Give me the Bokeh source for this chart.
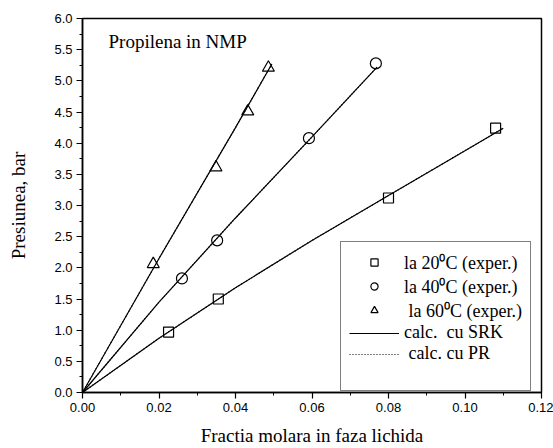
from bokeh.plotting import figure
from bokeh.models import (Range1d, SingleIntervalTicker, NumeralTickFormatter,
                          Legend, LegendItem, Label)
from bokeh.embed import file_html
from bokeh.resources import INLINE

# experimental points
x20 = [0.0225, 0.0355, 0.0800, 0.1080]
p20 = [0.97, 1.50, 3.12, 4.24]
x40 = [0.0260, 0.0352, 0.0592, 0.0767]
p40 = [1.83, 2.44, 4.08, 5.28]
x60 = [0.0185, 0.0349, 0.0432, 0.0486]
p60 = [2.06, 3.61, 4.51, 5.21]

# calculated curves (SRK and PR coincide)
calc20_x = [0.0, 0.02, 0.04, 0.06, 0.08, 0.10, 0.110]
calc20_p = [0.0, 0.87, 1.68, 2.44, 3.16, 3.88, 4.24]
calc40_x = [0.0, 0.02, 0.04, 0.06, 0.077]
calc40_p = [0.0, 1.45, 2.80, 4.10, 5.22]
calc60_x = [0.0, 0.02, 0.04, 0.0495]
calc60_p = [0.0, 2.15, 4.25, 5.27]

legend_labels = ["la 20\u2070C (exper.)", "la 40\u2070C (exper.)", " la 60\u2070C (exper.)",
                 "calc.  cu SRK", " calc. cu PR"]
title_text = "Propilena in NMP"
x_label = "Fractia molara in faza lichida"
y_label = "Presiunea, bar"

SERIF = "Liberation Serif"
SANS = "Liberation Sans"

p = figure(width=553, height=448, output_backend="svg", toolbar_location=None,
           x_range=Range1d(0, 0.12), y_range=Range1d(0, 6.0),
           min_border_left=82, min_border_top=18, min_border_right=12, min_border_bottom=55)

p.xgrid.visible = False
p.ygrid.visible = False
p.outline_line_color = "black"
p.outline_line_width = 1.5
p.background_fill_color = "white"
p.border_fill_color = "white"

p.xaxis.ticker = SingleIntervalTicker(interval=0.02, num_minor_ticks=2)
p.yaxis.ticker = SingleIntervalTicker(interval=0.5, num_minor_ticks=2)
p.xaxis.formatter = NumeralTickFormatter(format="0.00")
p.yaxis.formatter = NumeralTickFormatter(format="0.0")

for ax in (p.xaxis[0], p.yaxis[0]):
    ax.axis_line_color = "black"
    ax.axis_line_width = 1.5
    ax.major_tick_line_color = "black"
    ax.minor_tick_line_color = "black"
    ax.major_tick_line_width = 1.2
    ax.minor_tick_line_width = 1.0
    ax.major_tick_in = 0
    ax.major_tick_out = 6
    ax.minor_tick_in = 0
    ax.minor_tick_out = 3
    ax.major_label_text_font = SANS
    ax.major_label_text_font_size = "13px"
    ax.major_label_text_color = "black"
    ax.major_label_standoff = 4
    ax.axis_label_text_font = SERIF
    ax.axis_label_text_font_size = "19px"
    ax.axis_label_text_font_style = "normal"
    ax.axis_label_text_color = "black"

p.xaxis.axis_label = x_label
p.yaxis.axis_label = y_label
p.xaxis.axis_label_standoff = 10
p.yaxis.axis_label_standoff = 22

# PR (dotted) underneath SRK (solid)
pr20 = p.line(calc20_x, calc20_p, line_color="black", line_width=1.2, line_dash="1 2")
p.line(calc40_x, calc40_p, line_color="black", line_width=1.2, line_dash="1 2")
p.line(calc60_x, calc60_p, line_color="black", line_width=1.2, line_dash="1 2")
srk20 = p.line(calc20_x, calc20_p, line_color="black", line_width=1.2)
p.line(calc40_x, calc40_p, line_color="black", line_width=1.2)
p.line(calc60_x, calc60_p, line_color="black", line_width=1.2)

r20 = p.scatter(x20, p20, marker="square", size=10, fill_color=None,
                line_color="black", line_width=1.2)
r40 = p.scatter(x40, p40, marker="circle", size=11, fill_color=None,
                line_color="black", line_width=1.2)
r60 = p.scatter(x60, p60, marker="triangle", size=12, fill_color=None,
                line_color="black", line_width=1.2)

legend = Legend(items=[
    LegendItem(label=legend_labels[0], renderers=[r20]),
    LegendItem(label=legend_labels[1], renderers=[r40]),
    LegendItem(label=legend_labels[2], renderers=[r60]),
    LegendItem(label=legend_labels[3], renderers=[srk20]),
    LegendItem(label=legend_labels[4], renderers=[pr20]),
    LegendItem(label=" ", renderers=[]),
], location=(258, 1), margin=0, padding=8, spacing=-3,
    glyph_width=50, glyph_height=18, label_height=18, label_standoff=5,
    label_text_font=SERIF, label_text_font_size="18px", label_text_color="black",
    border_line_color="black", border_line_width=1, background_fill_color="white",
    background_fill_alpha=1.0)
p.add_layout(legend)

p.add_layout(Label(x=0.0068, y=5.63, text=title_text, text_font=SERIF,
                   text_font_size="19px", text_baseline="alphabetic", text_color="black"))

open("out.html", "w").write(file_html(p, INLINE))
